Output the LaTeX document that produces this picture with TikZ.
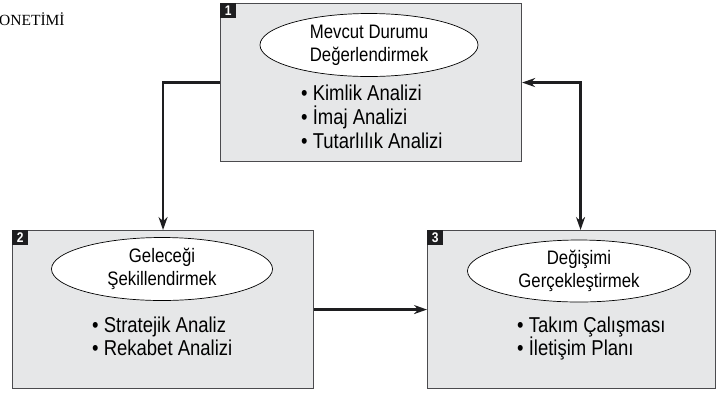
\documentclass[tikz,border=0pt]{standalone}
\usepackage{fontspec}
\setmainfont{Liberation Serif}
\newfontfamily\condfont[FakeStretch=0.86]{Liberation Sans}
\usepackage{tikz}
\usetikzlibrary{shapes.geometric, arrows.meta, positioning, calc}
\definecolor{mydark}{RGB}{30,30,32}
\definecolor{myedge}{RGB}{75,75,78}
\definecolor{hdrgray}{RGB}{230,231,232}
\tikzset{
  panel/.style={rectangle, draw=myedge, fill=hdrgray, anchor=north west,
    inner sep=0pt, minimum height=158pt, line width=1.1pt},
  tag/.style={rectangle, fill=mydark, text=white, anchor=north west,
    minimum width=16pt, minimum height=15pt, inner sep=0pt,
    font=\condfont\bfseries\fontsize{14}{14}\selectfont},
  goal/.style={ellipse, draw=black, fill=white, inner sep=0pt,
    align=center, line width=0.7pt,
    font=\condfont\fontsize{19.5}{23}\selectfont},
  item/.style={anchor=base west, inner sep=0pt,
    font=\condfont\fontsize{21.5}{24}\selectfont},
  arrow/.style={-{Stealth[length=13pt, width=9pt]}, line width=2.2pt, color=mydark},
  twoway/.style={{Stealth[length=13pt, width=9pt]}-{Stealth[length=13pt, width=9pt]},
    line width=2.2pt, color=mydark}
}

\begin{document}
\begin{tikzpicture}[x=1pt, y=-1pt]
  \useasboundingbox (0,0) rectangle (717,392);

  \node[anchor=base west, inner sep=0pt, font=\fontsize{15.5}{15.5}\selectfont]
    (title) at (-1,25) {ONETİMİ};

  % the three stages
  \node[panel, minimum width=301pt] (p1) at (220,3) {};
  \node[panel, minimum width=301pt] (p2) at (12,230) {};
  \node[panel, minimum width=288pt] (p3) at (427,230) {};

  \node[tag] (t1) at (p1.north west) {1};
  \node[tag] (t2) at (p2.north west) {2};
  \node[tag] (t3) at (p3.north west) {3};

  \node[goal, minimum width=218pt, minimum height=63pt] (g1) at (369,45)
    {Mevcut Durumu\\Değerlendirmek};
  \node[goal, minimum width=221pt, minimum height=63pt] (g2) at (162,269)
    {Geleceği\\Şekillendirmek};
  \node[goal, minimum width=223pt, minimum height=62pt] (g3) at (579,271)
    {Değişimi\\Gerçekleştirmek};

  \node[item] (i11) at (301,100) {• Kimlik Analizi};
  \node[item] (i12) at (301,124) {• İmaj Analizi};
  \node[item] (i13) at (301,148) {• Tutarlılık Analizi};

  \node[item] (i21) at (92,332) {• Stratejik Analiz};
  \node[item] (i22) at (92,355) {• Rekabet Analizi};

  \node[item] (i31) at (517,332) {• Takım Çalışması};
  \node[item] (i32) at (517,355) {• İletişim Planı};

  % connectors
  \draw[arrow] (p1.west) -| (p2.north);
  \draw[twoway] (p1.east) -| ([xshift=9pt]p3.north);
  \draw[arrow] (p2.east) -- (p3.west);
\end{tikzpicture}
\end{document}
